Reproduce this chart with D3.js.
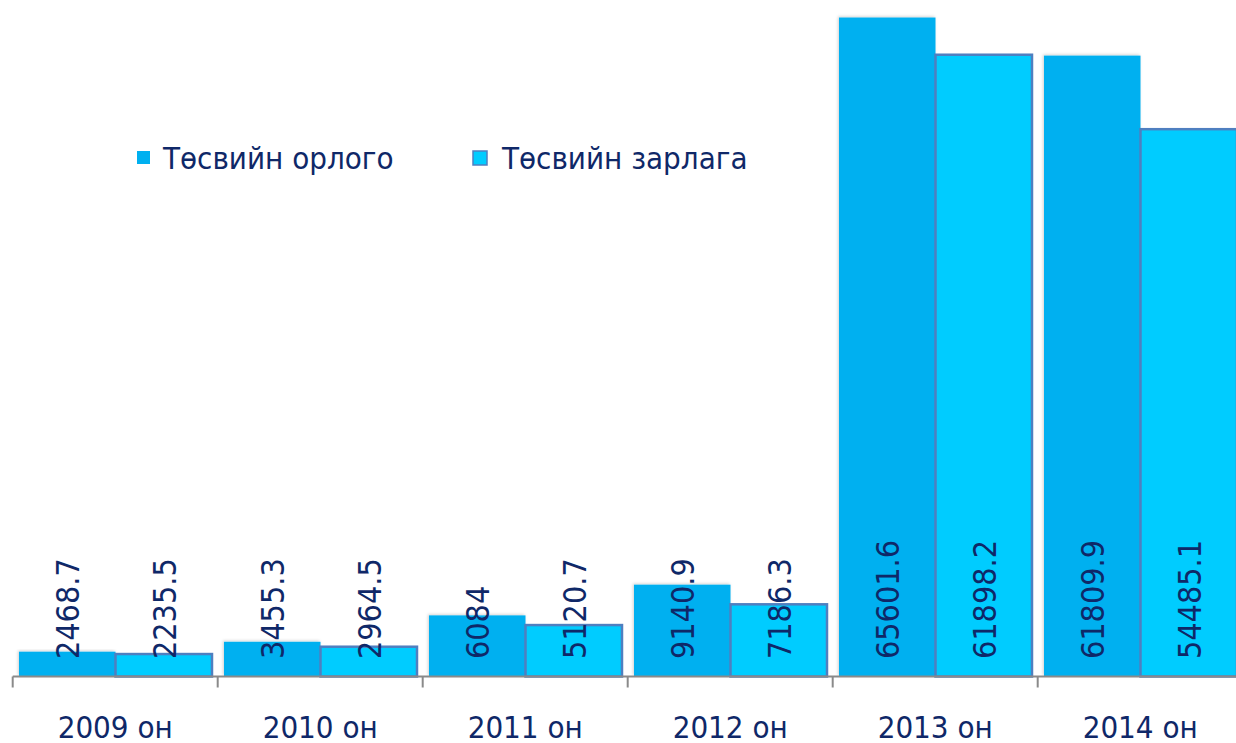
<!DOCTYPE html>
<html>
<head>
<meta charset="utf-8">
<script src="https://cdn.jsdelivr.net/npm/d3@7"></script>
<style>
  body { margin: 0; background: #fff; }
  text { font-family: "DejaVu Sans Condensed", "DejaVu Sans", sans-serif; fill: #0f2868; }
</style>
</head>
<body>
<div id="chart"></div>
<script>
// data
var categories = ["2009 он", "2010 он", "2011 он", "2012 он", "2013 он", "2014 он"];
var seriesNames = ["Төсвийн орлого", "Төсвийн зарлага"];
var income = [2468.7, 3455.3, 6084, 9140.9, 65601.6, 61809.9];
var expense = [2235.5, 2964.5, 5120.7, 7186.3, 61898.2, 54485.1];

var width = 1236, height = 743;
var baseY = 676.5;

var colors = ["#00b0f0", "#00ccff"];
var strokes = [null, "#4f7fc0"];

var svg = d3.select("#chart")
  .append("svg")
    .attr("width", width)
    .attr("height", height);

// faint shadow behind the income bars
var defs = svg.append("defs");
defs.append("filter")
    .attr("id", "shadow")
    .attr("x", "-10%").attr("y", "-10%")
    .attr("width", "120%").attr("height", "120%")
  .append("feDropShadow")
    .attr("dx", -1).attr("dy", -1)
    .attr("stdDeviation", 1.5)
    .attr("flood-color", "#000")
    .attr("flood-opacity", 0.18);

// scales
var x0 = d3.scaleBand()
  .domain(categories)
  .range([12.7, 12.7 + 205 * categories.length])
  .padding(0);

var x1 = d3.scaleBand()
  .domain([0, 1])
  .range([6.3, 205 - 5.7])
  .padding(0);

var y = d3.scaleLinear()
  .domain([0, 70000])
  .range([baseY, baseY - 70000 * 0.010045]);

var rows = categories.map(function(c, i) {
  return { cat: c, vals: [income[i], expense[i]] };
});

// bars
var group = svg.append("g")
  .selectAll("g")
  .data(rows)
  .enter()
  .append("g")
    .attr("transform", function(d) { return "translate(" + x0(d.cat) + ",0)"; });

group.selectAll("rect")
  .data(function(d) { return d.vals.map(function(v, s) { return { v: v, s: s }; }); })
  .enter()
  .append("rect")
    .attr("x", function(d) { return x1(d.s); })
    .attr("y", function(d) { return y(d.v); })
    .attr("width", x1.bandwidth())
    .attr("height", function(d) { return baseY - y(d.v); })
    .attr("fill", function(d) { return colors[d.s]; })
    .attr("stroke", function(d) { return strokes[d.s] || "none"; })
    .attr("stroke-width", 2.5)
    .attr("filter", function(d) { return d.s == 0 ? "url(#shadow)" : null; });

// value labels, rotated, starting near the base
group.selectAll("text")
  .data(function(d) { return d.vals.map(function(v, s) { return { v: v, s: s }; }); })
  .enter()
  .append("text")
    .attr("transform", function(d) {
      return "translate(" + (x1(d.s) + x1.bandwidth() / 2 + 1) + "," + 659 + ") rotate(-90)";
    })
    .attr("text-anchor", "start")
    .attr("dominant-baseline", "central")
    .style("font-size", "32px")
    .text(function(d) { return d.v; });

// x axis
var axis = d3.axisBottom(x0).tickSize(0).tickPadding(0);
var axisG = svg.append("g")
    .attr("transform", "translate(0," + baseY + ")")
    .call(axis);
axisG.select(".domain").remove();
axisG.append("line")
    .attr("x1", 12.7).attr("x2", width)
    .attr("stroke", "#8a8a8a")
    .attr("stroke-width", 2);
axisG.selectAll(".sep")
  .data(d3.range(categories.length + 1))
  .enter()
  .append("line")
    .attr("x1", function(i) { return 12.7 + 205 * i; })
    .attr("x2", function(i) { return 12.7 + 205 * i; })
    .attr("y1", 0).attr("y2", 11)
    .attr("stroke", "#8a8a8a")
    .attr("stroke-width", 2);
axisG.selectAll(".tick text")
    .attr("y", 61)
    .attr("dy", 0)
    .style("font-size", "31px")
    .style("fill", "#0f2868");

// legend
var legendX = [137, 473];
var legend = svg.append("g")
  .selectAll("g")
  .data(seriesNames)
  .enter()
  .append("g")
    .attr("transform", function(d, i) { return "translate(" + legendX[i] + ",151)"; });

legend.append("rect")
    .attr("width", function(d, i) { return i == 0 ? 13 : 14; })
    .attr("height", function(d, i) { return i == 0 ? 13 : 14; })
    .attr("fill", function(d, i) { return colors[i]; })
    .attr("stroke", function(d, i) { return strokes[i] || "none"; })
    .attr("stroke-width", 1.5);

legend.append("text")
    .attr("x", function(d, i) { return i == 0 ? 26 : 29; })
    .attr("y", 7)
    .attr("dominant-baseline", "central")
    .style("font-size", "31px")
    .text(function(d) { return d; });
</script>
</body>
</html>
